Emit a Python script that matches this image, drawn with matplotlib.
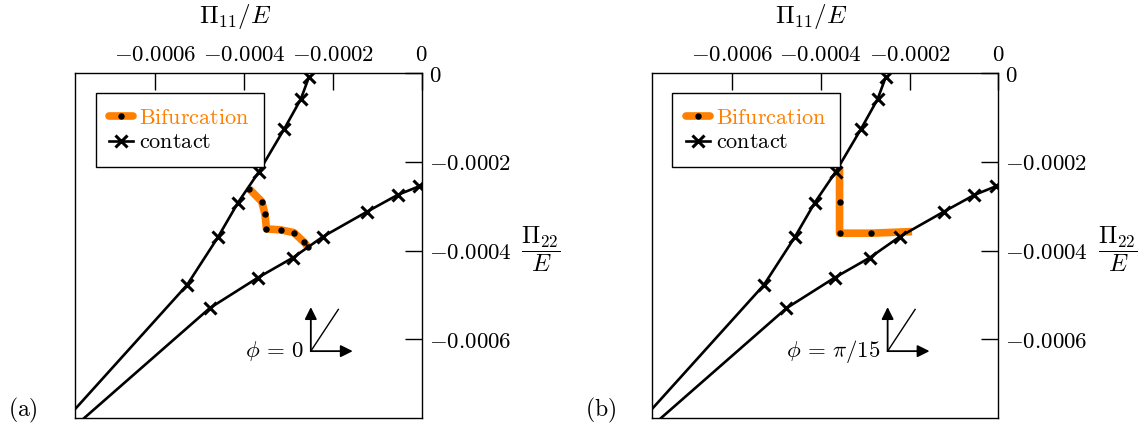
import matplotlib
matplotlib.use('Agg')
import matplotlib.pyplot as plt
from matplotlib.lines import Line2D

plt.rcParams['mathtext.fontset'] = 'cm'
plt.rcParams['font.family'] = 'serif'
plt.rcParams['font.serif'] = ['DejaVu Serif']

# ---- data (Pi11/E, Pi22/E) ----
contact1_x = [-0.0002534, -0.0002722, -0.0003098, -0.0003662, -0.0004135,
              -0.0004586, -0.0005285, -0.0008494]
contact1_y = [-0.0000077, -0.0000586, -0.0001263, -0.0002219, -0.0002918,
              -0.0003698, -0.0004780, -0.0008343]
contact2_x = [-0.0000061, -0.0000541, -0.0001227, -0.0002219, -0.0002895,
              -0.0003684, -0.0004773, -0.0008268]
contact2_y = [-0.0002552, -0.0002744, -0.0003121, -0.0003684, -0.0004158,
              -0.0004609, -0.0005299, -0.0008365]

bif_a_x = [-0.0003883, -0.0003601, -0.0003527, -0.0003495, -0.0003173,
           -0.0002879, -0.0002647, -0.0002564]
bif_a_y = [-0.0002609, -0.0002895, -0.0003179, -0.0003511, -0.0003533,
           -0.0003594, -0.0003811, -0.0003917]
bif_b_x = [-0.0003578, -0.0003578, -0.0003578, -0.0002864, -0.0001946]
bif_b_y = [-0.0002135, -0.0002895, -0.0003608, -0.0003608, -0.0003572]

xticks = [-0.0006, -0.0004, -0.0002, 0.0]
xticklabels = ['$-0.0006$', '$-0.0004$', '$-0.0002$', '$0$']
yticks = [-0.0006, -0.0004, -0.0002, 0.0]
yticklabels = ['$-0.0006$', '$-0.0004$', '$-0.0002$', '$0$']

panel_labels = [r'$\mathrm{(a)}$', r'$\mathrm{(b)}$']
phi_labels = [r'$\phi\,=\,0$', r'$\phi\,=\,\pi/15$']

ORANGE = '#ff8000'
FS = 16.5

fig = plt.figure(figsize=(11.48, 4.28), dpi=100)
W, H = 1148, 428
ax_w, ax_h = 346.5, 345
lefts = [75.2, 652.0]
bottom_px = 418.2

bifs = [(bif_a_x, bif_a_y, None), (bif_b_x, bif_b_y, [1, 2, 3])]

for i, left in enumerate(lefts):
    ax = fig.add_axes([left / W, (H - bottom_px) / H, ax_w / W, ax_h / H])
    bx, by, mev = bifs[i]
    ax.plot(contact1_x, contact1_y, color='k', lw=1.9, marker='x', ms=9,
            mew=2.2, markevery=slice(0, 7), zorder=3)
    ax.plot(contact2_x, contact2_y, color='k', lw=1.9, marker='x', ms=9,
            mew=2.2, markevery=slice(0, 7), zorder=3)
    ax.plot(bx, by, color=ORANGE, lw=5.5, solid_capstyle='butt',
            solid_joinstyle='round', marker='o', ms=3.6, mfc='k', mec='k',
            markevery=mev, zorder=2)

    ax.set_xlim(-0.00078, 0)
    ax.set_ylim(-0.000778, 0)

    ax.xaxis.set_ticks_position('top')
    ax.yaxis.set_ticks_position('right')
    ax.set_xticks(xticks)
    ax.set_xticklabels(xticklabels)
    ax.set_yticks(yticks)
    ax.set_yticklabels(yticklabels)
    ax.tick_params(axis='both', direction='in', length=12, width=1.0,
                   labelsize=FS, pad=5)
    for s in ax.spines.values():
        s.set_linewidth(1.0)

    ax.text(0.461, 1.165, r'$\Pi_{11}/E$', transform=ax.transAxes,
            ha='center', va='center', fontsize=18)
    ax.text(1.345, 0.49, r'$\dfrac{\Pi_{22}}{E}$', transform=ax.transAxes,
            ha='center', va='center', fontsize=17.5)

    handles = [
        Line2D([], [], color=ORANGE, lw=5.5, marker='o', ms=3.6, mfc='k',
               mec='k', solid_capstyle='round'),
        Line2D([], [], color='k', lw=1.9, marker='x', ms=9, mew=2.2),
    ]
    leg = ax.legend(handles, [r'$\mathrm{Bifurcation}$', r'$\mathrm{contact}$'],
                    loc='upper left', bbox_to_anchor=(0.059, 0.943),
                    borderaxespad=0, fontsize=16, handlelength=1.05,
                    handletextpad=0.3, numpoints=1, fancybox=False,
                    framealpha=1, edgecolor='k', borderpad=0.62,
                    labelspacing=0.12)
    leg.get_frame().set_linewidth(1.0)
    leg.get_texts()[0].set_color(ORANGE)

    # orientation arrows
    ox, oy = 0.680, 0.1944
    ax.annotate('', xy=(ox, 0.322), xytext=(ox, oy), xycoords='axes fraction',
                arrowprops=dict(arrowstyle='-|>', color='k', lw=1.3,
                                mutation_scale=18, shrinkA=0, shrinkB=0))
    ax.annotate('', xy=(0.801, oy), xytext=(ox, oy), xycoords='axes fraction',
                arrowprops=dict(arrowstyle='-|>', color='k', lw=1.3,
                                mutation_scale=18, shrinkA=0, shrinkB=0))
    ax.plot([ox, 0.7594], [oy, 0.3153], transform=ax.transAxes, color='k',
            lw=1.0)
    ax.text(ox - 0.02, oy, phi_labels[i], transform=ax.transAxes,
            ha='right', va='center', fontsize=16.5)

    fig.text((left - 67) / W, (H - 410) / H, panel_labels[i], ha='left',
             va='center', fontsize=17)

fig.savefig('out.png', dpi=100)
